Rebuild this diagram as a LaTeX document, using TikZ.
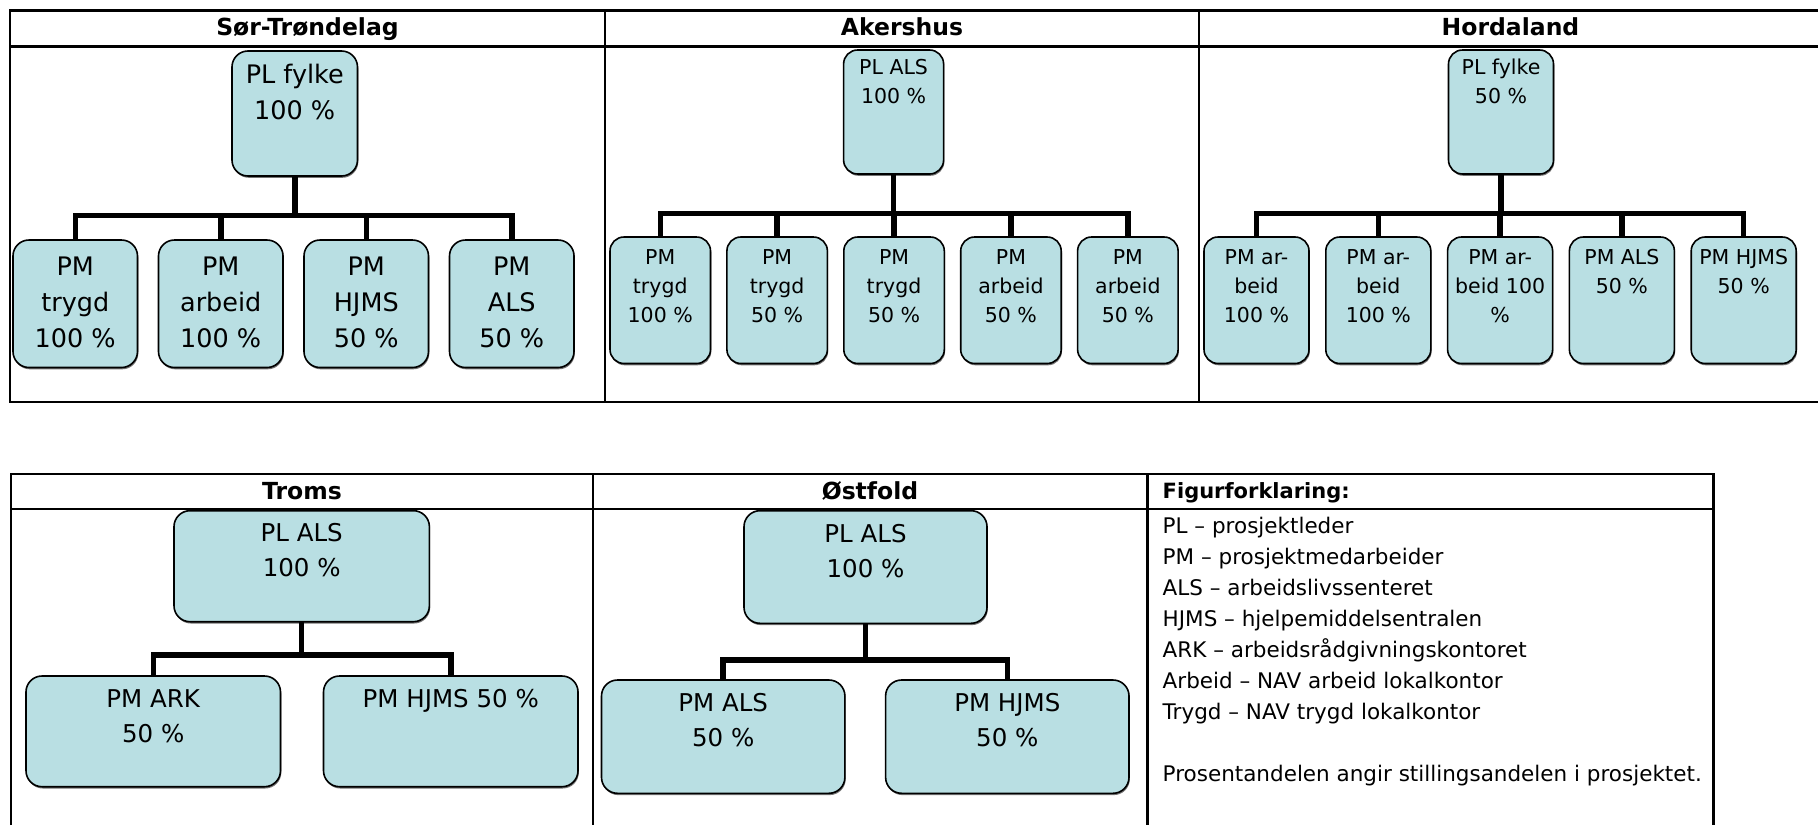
\documentclass[tikz,border=0pt]{standalone}
\usepackage{fontspec}
\setmainfont{DejaVu Sans}
\usetikzlibrary{positioning,shadows,calc}
\definecolor{boxfill}{HTML}{B9DFE3}
% top-aligned text block inside a box: width, height, first baseline, text
\newcommand{\orgtext}[4]{\begin{minipage}[c][#2][t]{#1}\centering\rule{0pt}{#3}#4\par\end{minipage}}
\tikzset{
  % Org chart box: light blue fill, rounded, slight shadow
  orgbox/.style={draw, fill=boxfill, line width=1.6pt, rounded corners=16pt,
                 inner sep=0pt, outer sep=0pt,
                 drop shadow={shadow xshift=0.8pt, shadow yshift=-1.8pt, fill=black!55, opacity=1}},
  orgbox-big/.style={orgbox, font=\fontsize{25.5}{36}\selectfont},
  orgbox-small/.style={orgbox, rounded corners=14pt, font=\fontsize{20.5}{29}\selectfont},
  orgbox-wide/.style={orgbox, font=\fontsize{24.5}{35}\selectfont},
  % Connectors and table rules
  link/.style={line width=5.5pt},
  tabline/.style={line width=2.6pt},
  % Texts
  colhead/.style={font=\bfseries\fontsize{23.5}{28}\selectfont, anchor=base, inner sep=0pt},
  leghead/.style={font=\bfseries\fontsize{21}{26}\selectfont, anchor=base west, inner sep=0pt},
  legendtext/.style={font=\fontsize{21.5}{31}\selectfont, align=left, anchor=north west, inner sep=0pt}
}

\begin{document}
\begin{tikzpicture}[x=1pt, y=-1pt]
\useasboundingbox (0,0) rectangle (1818,825);

% ============== TOP TABLE ==============
\draw[tabline] (1818,10.5) -- (10,10.5) -- (10,402) -- (1818,402);
\draw[tabline] (10,46.5) -- (1818,46.5);
\draw[tabline] (605,10.5) -- (605,402);
\draw[tabline] (1199,10.5) -- (1199,402);

\node[colhead] (hst) at (307.5,35.5) {Sør-Trøndelag};
\node[colhead] (hak) at (902,35.5) {Akershus};
\node[colhead] (hho) at (1510.5,35.5) {Hordaland};

% Sør-Trøndelag
\node[orgbox-big, anchor=north west] (st0) at (232,51) {\orgtext{125.5pt}{125pt}{32.5pt}{PL fylke\\100 \%}};
\node[orgbox-big, anchor=north west] (st1) at (13,240) {\orgtext{124.5pt}{127.5pt}{35pt}{PM\\trygd\\100 \%}};
\node[orgbox-big, right=21pt of st1] (st2) {\orgtext{124.5pt}{127.5pt}{35pt}{PM\\arbeid\\100 \%}};
\node[orgbox-big, right=21pt of st2] (st3) {\orgtext{124.5pt}{127.5pt}{35pt}{PM\\HJMS\\50 \%}};
\node[orgbox-big, right=21pt of st3] (st4) {\orgtext{124.5pt}{127.5pt}{35pt}{PM\\ALS\\50 \%}};
\coordinate (stbar) at (0,215.6);
\foreach \c in {st1,st2,st3,st4}
  \draw[link] (st0.south) -- (st0.south |- stbar) -| (\c.north);

% Akershus
\node[orgbox-small, anchor=north west] (ak0) at (843.6,50) {\orgtext{100pt}{124pt}{24pt}{PL ALS\\100 \%}};
\node[orgbox-small, anchor=north west] (ak1) at (610,237) {\orgtext{100.5pt}{126.5pt}{27pt}{PM\\trygd\\100 \%}};
\node[orgbox-small, right=16.4pt of ak1] (ak2) {\orgtext{100.5pt}{126.5pt}{27pt}{PM\\trygd\\50 \%}};
\node[orgbox-small, right=16.4pt of ak2] (ak3) {\orgtext{100.5pt}{126.5pt}{27pt}{PM\\trygd\\50 \%}};
\node[orgbox-small, right=16.4pt of ak3] (ak4) {\orgtext{100.5pt}{126.5pt}{27pt}{PM\\arbeid\\50 \%}};
\node[orgbox-small, right=16.4pt of ak4] (ak5) {\orgtext{100.5pt}{126.5pt}{27pt}{PM\\arbeid\\50 \%}};
\coordinate (akbar) at (0,213.5);
\foreach \c in {ak1,ak2,ak3,ak4,ak5}
  \draw[link] (ak0.south) -- (ak0.south |- akbar) -| (\c.north);

% Hordaland
\node[orgbox-small, anchor=north west] (ho0) at (1448.5,50) {\orgtext{105pt}{124pt}{24pt}{PL fylke\\50 \%}};
\node[orgbox-small, anchor=north west] (ho1) at (1204,237) {\orgtext{105pt}{126.5pt}{27pt}{PM ar-\\beid\\100 \%}};
\node[orgbox-small, right=16.8pt of ho1] (ho2) {\orgtext{105pt}{126.5pt}{27pt}{PM ar-\\beid\\100 \%}};
\node[orgbox-small, right=16.8pt of ho2] (ho3) {\orgtext{105pt}{126.5pt}{27pt}{PM ar-\\beid 100\\\%}};
\node[orgbox-small, right=16.8pt of ho3] (ho4) {\orgtext{105pt}{126.5pt}{27pt}{PM ALS\\50 \%}};
\node[orgbox-small, right=16.8pt of ho4] (ho5) {\orgtext{105pt}{126.5pt}{27pt}{PM HJMS\\50 \%}};
\coordinate (hobar) at (0,213.5);
\foreach \c in {ho1,ho2,ho3,ho4,ho5}
  \draw[link] (ho0.south) -- (ho0.south |- hobar) -| (\c.north);

% ============== BOTTOM TABLE ==============
\draw[tabline] (11,825) -- (11,474) -- (1713.5,474) -- (1713.5,825);
\draw[tabline] (11,509) -- (1713.5,509);
\draw[tabline] (593,474) -- (593,825);
\draw[tabline] (1147.5,474) -- (1147.5,825);

\node[colhead] (htr) at (302,499.5) {Troms};
\node[colhead] (hos) at (870,499.5) {Østfold};
\node[leghead] (hleg) at (1162.5,498.5) {Figurforklaring:};

% Troms
\node[orgbox-wide, anchor=north west] (tr0) at (174,510.7) {\orgtext{255.4pt}{111pt}{31pt}{PL ALS\\100 \%}};
\node[orgbox-wide, anchor=north west] (tr1) at (26,676) {\orgtext{254.5pt}{110.7pt}{31pt}{PM ARK\\50 \%}};
\node[orgbox-wide, right=43pt of tr1] (tr2) {\orgtext{254.5pt}{110.7pt}{31pt}{PM HJMS 50 \%}};
\coordinate (trbar) at (0,655);
\foreach \c in {tr1,tr2}
  \draw[link] (tr0.south) -- (tr0.south |- trbar) -| (\c.north);

% Østfold
\node[orgbox-wide, anchor=north west] (os0) at (744,510.7) {\orgtext{243pt}{112.6pt}{32pt}{PL ALS\\100 \%}};
\node[orgbox-wide, anchor=north west] (os1) at (601.5,680) {\orgtext{243.4pt}{113.3pt}{31.5pt}{PM ALS\\50 \%}};
\node[orgbox-wide, right=40.7pt of os1] (os2) {\orgtext{243.4pt}{113.3pt}{31.5pt}{PM HJMS\\50 \%}};
\coordinate (osbar) at (0,660);
\foreach \c in {os1,os2}
  \draw[link] (os0.south) -- (os0.south |- osbar) -| (\c.north);

% Legend
\node[legendtext] (leg) at (1162.5,511) {\rule{0pt}{22pt}PL \textendash\ prosjektleder\\
  PM \textendash\ prosjektmedarbeider\\
  ALS \textendash\ arbeidslivssenteret\\
  HJMS \textendash\ hjelpemiddelsentralen\\
  ARK \textendash\ arbeidsrådgivningskontoret\\
  Arbeid \textendash\ NAV arbeid lokalkontor\\
  Trygd \textendash\ NAV trygd lokalkontor\\[31pt]
  Prosentandelen angir stillingsandelen i prosjektet.};

\end{tikzpicture}
\end{document}
